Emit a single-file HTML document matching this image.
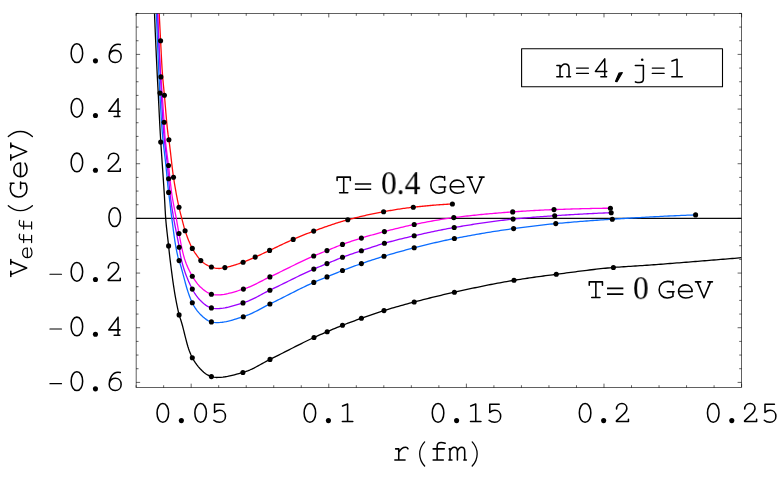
<!DOCTYPE html>
<html><head><meta charset="utf-8"><title>Veff</title>
<style>
html,body{margin:0;padding:0;background:#fff;}
body{width:784px;height:485px;position:relative;overflow:hidden;font-family:"Liberation Mono",monospace;color:#000;}
.s{position:absolute;font-family:"Liberation Serif",serif;font-size:32.2px;line-height:1;white-space:pre;will-change:transform;transform-origin:0 26.7px;transform:scale(0.977,1.03);}
</style></head><body>
<svg width="784" height="485" viewBox="0 0 784 485" style="position:absolute;left:0;top:0"><defs><clipPath id="c"><rect x="136.13" y="13.4" width="605.47" height="374.25"/></clipPath></defs><g clip-path="url(#c)" fill="none" stroke-linejoin="round"><path d="M136.13,218.4 H741.6" stroke="#0a0a0a" stroke-width="1.12"/><path d="M159.20,13.00 L159.26,14.30 L159.33,15.59 L159.39,16.89 L159.45,18.18 L159.52,19.48 L159.58,20.78 L159.65,22.07 L159.71,23.37 L159.78,24.67 L159.84,25.96 L159.91,27.26 L159.97,28.55 L160.04,29.85 L160.11,31.15 L160.17,32.44 L160.24,33.74 L160.31,35.03 L160.37,36.33 L160.44,37.63 L160.51,38.92 L160.57,40.22 L160.64,41.51 L160.71,42.81 L160.77,44.11 L160.84,45.40 L160.90,46.70 L160.97,48.00 L161.03,49.29 L161.10,50.59 L161.16,51.89 L161.23,53.18 L161.29,54.48 L161.36,55.78 L161.42,57.07 L161.49,58.37 L161.56,59.66 L161.63,60.96 L161.70,62.26 L161.77,63.55 L161.85,64.85 L161.92,66.14 L162.00,67.44 L162.08,68.73 L162.17,70.03 L162.25,71.32 L162.34,72.62 L162.44,73.91 L162.54,75.20 L162.64,76.50 L162.75,77.79 L162.86,79.08 L162.98,80.37 L163.10,81.67 L163.22,82.96 L163.34,84.25 L163.47,85.54 L163.59,86.84 L163.72,88.13 L163.84,89.42 L163.97,90.71 L164.09,92.00 L164.21,93.30 L164.33,94.59 L164.45,95.88 L164.57,97.17 L164.68,98.47 L164.80,99.76 L164.91,101.05 L165.02,102.35 L165.12,103.64 L165.23,104.94 L165.34,106.23 L165.45,107.52 L165.55,108.82 L165.66,110.11 L165.77,111.41 L165.88,112.70 L165.99,113.99 L166.10,115.29 L166.21,116.58 L166.32,117.87 L166.44,119.17 L166.56,120.46 L166.68,121.75 L166.80,123.04 L166.93,124.33 L167.06,125.63 L167.19,126.92 L167.33,128.21 L167.47,129.49 L167.62,130.78 L167.77,132.07 L167.92,133.36 L168.08,134.64 L168.28,135.93 L168.49,137.21 L168.70,138.49 L168.90,139.77 L169.08,141.06 L169.25,142.34 L169.42,143.63 L169.59,144.92 L169.75,146.20 L169.91,147.49 L170.06,148.78 L170.22,150.07 L170.37,151.36 L170.52,152.65 L170.66,153.94 L170.81,155.23 L170.96,156.52 L171.10,157.81 L171.25,159.10 L171.39,160.39 L171.54,161.68 L171.69,162.97 L171.84,164.26 L171.99,165.55 L172.14,166.84 L172.30,168.12 L172.46,169.41 L172.62,170.70 L172.78,171.99 L172.95,173.27 L173.13,174.56 L173.31,175.84 L173.49,177.13 L173.68,178.41 L173.87,179.69 L174.07,180.97 L174.28,182.26 L174.49,183.54 L174.70,184.82 L174.92,186.10 L175.14,187.38 L175.36,188.66 L175.59,189.93 L175.82,191.21 L176.05,192.49 L176.28,193.76 L176.52,195.04 L176.76,196.32 L177.00,197.59 L177.24,198.87 L177.49,200.14 L177.75,201.41 L178.01,202.69 L178.27,203.96 L178.54,205.23 L178.82,206.49 L179.10,207.76 L179.40,209.02 L179.70,210.28 L180.02,211.54 L180.34,212.80 L180.66,214.06 L180.99,215.31 L181.32,216.57 L181.65,217.82 L181.98,219.08 L182.30,220.34 L182.61,221.60 L182.93,222.86 L183.25,224.12 L183.58,225.38 L183.91,226.64 L184.26,227.89 L184.62,229.13 L184.99,230.37 L185.39,231.60 L185.80,232.83 L186.22,234.06 L186.65,235.29 L187.10,236.51 L187.56,237.74 L188.03,238.96 L188.52,240.17 L189.01,241.38 L189.53,242.58 L190.05,243.77 L190.59,244.94 L191.15,246.11 L191.72,247.27 L192.30,248.41 L192.92,249.53 L193.57,250.64 L194.26,251.74 L194.97,252.83 L195.71,253.91 L196.47,254.97 L197.24,256.03 L198.01,257.08 L198.79,258.12 L199.57,259.18 L200.39,260.19 L201.30,261.05 L202.28,261.88 L203.31,262.68 L204.39,263.46 L205.51,264.20 L206.65,264.89 L207.82,265.52 L209.01,266.09 L210.20,266.59 L211.40,267.00 L212.61,267.38 L213.87,267.74 L215.15,268.07 L216.45,268.32 L217.74,268.47 L219.02,268.49 L220.31,268.39 L221.60,268.21 L222.89,267.98 L224.17,267.74 L225.44,267.50 L226.71,267.24 L227.97,266.96 L229.23,266.65 L230.48,266.32 L231.74,265.97 L232.98,265.61 L234.23,265.22 L235.47,264.83 L236.71,264.42 L237.95,264.00 L239.18,263.58 L240.41,263.15 L241.63,262.72 L242.85,262.29 L244.07,261.85 L245.28,261.39 L246.48,260.91 L247.68,260.41 L248.88,259.90 L250.07,259.38 L251.26,258.86 L252.45,258.33 L253.64,257.80 L254.82,257.27 L256.01,256.74 L257.19,256.21 L258.37,255.67 L259.55,255.13 L260.73,254.58 L261.90,254.03 L263.07,253.48 L264.25,252.92 L265.42,252.37 L266.60,251.81 L267.77,251.26 L268.94,250.71 L270.12,250.16 L271.30,249.61 L272.47,249.05 L273.64,248.50 L274.82,247.94 L275.99,247.38 L277.16,246.82 L278.33,246.26 L279.50,245.70 L280.68,245.15 L281.85,244.59 L283.02,244.03 L284.20,243.48 L285.37,242.93 L286.55,242.39 L287.73,241.84 L288.91,241.30 L290.09,240.77 L291.28,240.24 L292.46,239.72 L293.65,239.20 L294.84,238.69 L296.04,238.18 L297.23,237.67 L298.43,237.17 L299.62,236.66 L300.82,236.16 L302.02,235.67 L303.22,235.17 L304.43,234.69 L305.63,234.20 L306.84,233.72 L308.05,233.25 L309.26,232.78 L310.47,232.31 L311.68,231.85 L312.90,231.40 L314.11,230.95 L315.33,230.50 L316.55,230.06 L317.77,229.61 L318.99,229.17 L320.21,228.73 L321.43,228.29 L322.65,227.85 L323.88,227.41 L325.10,226.98 L326.33,226.55 L327.56,226.12 L328.79,225.70 L330.02,225.28 L331.25,224.86 L332.48,224.45 L333.72,224.04 L334.95,223.64 L336.19,223.24 L337.43,222.85 L338.67,222.46 L339.91,222.08 L341.15,221.70 L342.39,221.33 L343.63,220.97 L344.88,220.61 L346.13,220.26 L347.37,219.92 L348.62,219.58 L349.87,219.25 L351.12,218.92 L352.38,218.59 L353.63,218.27 L354.89,217.95 L356.15,217.63 L357.41,217.32 L358.67,217.01 L359.93,216.70 L361.20,216.40 L362.46,216.10 L363.73,215.80 L364.99,215.51 L366.26,215.22 L367.53,214.94 L368.80,214.66 L370.07,214.38 L371.34,214.11 L372.61,213.84 L373.89,213.58 L375.16,213.32 L376.43,213.06 L377.71,212.81 L378.98,212.56 L380.25,212.32 L381.53,212.08 L382.80,211.84 L384.08,211.61 L385.35,211.38 L386.63,211.16 L387.91,210.93 L389.19,210.71 L390.47,210.49 L391.75,210.27 L393.03,210.05 L394.31,209.84 L395.59,209.63 L396.87,209.43 L398.16,209.23 L399.44,209.03 L400.73,208.83 L402.01,208.64 L403.30,208.46 L404.58,208.28 L405.87,208.10 L407.16,207.93 L408.44,207.77 L409.73,207.61 L411.02,207.46 L412.31,207.31 L413.59,207.17 L414.88,207.03 L416.17,206.89 L417.46,206.76 L418.75,206.62 L420.04,206.49 L421.33,206.36 L422.62,206.23 L423.91,206.10 L425.20,205.98 L426.49,205.85 L427.78,205.73 L429.08,205.61 L430.37,205.50 L431.66,205.38 L432.96,205.27 L434.25,205.16 L435.54,205.06 L436.84,204.96 L438.13,204.86 L439.43,204.76 L440.72,204.67 L442.02,204.58 L443.31,204.49 L444.61,204.41 L445.91,204.33 L447.21,204.26 L448.50,204.19 L449.80,204.12 L451.10,204.06 L452.40,204.00" stroke="#ff0a0a" stroke-width="1.3"/><path d="M157.80,13.00 L157.83,14.77 L157.86,16.54 L157.89,18.32 L157.93,20.09 L157.97,21.86 L158.02,23.63 L158.08,25.40 L158.13,27.17 L158.19,28.94 L158.26,30.71 L158.33,32.48 L158.40,34.25 L158.47,36.02 L158.55,37.78 L158.63,39.55 L158.72,41.32 L158.80,43.09 L158.89,44.86 L158.99,46.63 L159.08,48.39 L159.18,50.16 L159.28,51.93 L159.38,53.70 L159.48,55.46 L159.58,57.23 L159.69,59.00 L159.80,60.76 L159.90,62.53 L160.01,64.30 L160.12,66.06 L160.24,67.83 L160.35,69.59 L160.46,71.36 L160.58,73.12 L160.73,74.89 L160.88,76.65 L161.02,78.42 L161.15,80.18 L161.29,81.95 L161.42,83.71 L161.55,85.48 L161.68,87.24 L161.81,89.01 L161.94,90.78 L162.07,92.54 L162.20,94.31 L162.33,96.07 L162.45,97.84 L162.58,99.60 L162.70,101.37 L162.82,103.14 L162.95,104.90 L163.07,106.67 L163.19,108.44 L163.31,110.20 L163.43,111.97 L163.54,113.73 L163.66,115.50 L163.78,117.27 L163.89,119.03 L164.00,120.80 L164.12,122.57 L164.22,124.33 L164.32,126.10 L164.42,127.87 L164.52,129.64 L164.62,131.41 L164.74,133.17 L164.87,134.93 L165.02,136.70 L165.19,138.46 L165.36,140.22 L165.55,141.98 L165.75,143.74 L165.95,145.49 L166.17,147.25 L166.39,149.01 L166.61,150.77 L166.84,152.52 L167.07,154.28 L167.30,156.04 L167.53,157.79 L167.76,159.55 L167.99,161.31 L168.21,163.06 L168.42,164.82 L168.63,166.58 L168.83,168.34 L169.03,170.10 L169.22,171.86 L169.41,173.62 L169.60,175.38 L169.79,177.14 L169.99,178.90 L170.18,180.66 L170.38,182.43 L170.58,184.18 L170.78,185.94 L170.99,187.70 L171.21,189.46 L171.44,191.21 L171.67,192.96 L171.91,194.72 L172.17,196.46 L172.44,198.21 L172.73,199.95 L173.04,201.70 L173.37,203.44 L173.70,205.18 L174.04,206.91 L174.39,208.65 L174.74,210.39 L175.09,212.13 L175.43,213.86 L175.77,215.60 L176.10,217.34 L176.42,219.08 L176.74,220.83 L177.04,222.57 L177.34,224.31 L177.65,226.06 L177.95,227.80 L178.26,229.55 L178.58,231.29 L178.91,233.03 L179.24,234.76 L179.57,236.51 L179.90,238.25 L180.23,240.00 L180.56,241.75 L180.90,243.50 L181.24,245.25 L181.60,246.99 L181.97,248.73 L182.35,250.46 L182.75,252.18 L183.17,253.89 L183.62,255.59 L184.09,257.28 L184.59,258.95 L185.14,260.62 L185.73,262.29 L186.36,263.96 L187.03,265.62 L187.74,267.27 L188.48,268.90 L189.26,270.51 L190.06,272.10 L190.88,273.67 L191.73,275.20 L192.60,276.71 L193.51,278.21 L194.49,279.72 L195.52,281.22 L196.60,282.67 L197.72,284.08 L198.89,285.43 L200.10,286.69 L201.36,287.85 L202.68,288.98 L204.09,290.13 L205.57,291.23 L207.11,292.24 L208.70,293.11 L210.31,293.77 L211.95,294.20 L213.67,294.53 L215.46,294.78 L217.24,294.90 L218.99,294.87 L220.73,294.76 L222.48,294.57 L224.23,294.32 L225.98,294.01 L227.73,293.64 L229.47,293.23 L231.21,292.78 L232.95,292.30 L234.67,291.80 L236.39,291.28 L238.10,290.75 L239.80,290.22 L241.49,289.69 L243.17,289.17 L244.83,288.65 L246.48,288.07 L248.11,287.45 L249.74,286.78 L251.36,286.08 L252.97,285.35 L254.57,284.59 L256.17,283.81 L257.77,283.01 L259.36,282.20 L260.95,281.38 L262.54,280.56 L264.13,279.75 L265.72,278.94 L267.31,278.15 L268.91,277.37 L270.51,276.61 L272.11,275.86 L273.71,275.10 L275.31,274.33 L276.90,273.56 L278.49,272.79 L280.09,272.01 L281.68,271.23 L283.27,270.45 L284.86,269.67 L286.45,268.89 L288.03,268.11 L289.62,267.32 L291.21,266.54 L292.80,265.76 L294.40,264.98 L295.99,264.21 L297.58,263.44 L299.18,262.67 L300.77,261.90 L302.37,261.15 L303.97,260.39 L305.58,259.65 L307.18,258.91 L308.79,258.17 L310.41,257.45 L312.02,256.73 L313.64,256.02 L315.27,255.33 L316.90,254.65 L318.54,253.98 L320.18,253.32 L321.83,252.66 L323.48,252.01 L325.12,251.35 L326.77,250.69 L328.41,250.03 L330.05,249.36 L331.68,248.68 L333.32,248.01 L334.96,247.34 L336.60,246.67 L338.25,246.02 L339.90,245.38 L341.55,244.75 L343.21,244.14 L344.87,243.54 L346.54,242.96 L348.22,242.37 L349.89,241.80 L351.57,241.24 L353.25,240.68 L354.94,240.13 L356.62,239.59 L358.31,239.06 L360.00,238.53 L361.69,238.01 L363.39,237.50 L365.08,236.99 L366.78,236.48 L368.48,235.98 L370.18,235.49 L371.88,235.00 L373.58,234.52 L375.29,234.05 L377.00,233.57 L378.71,233.11 L380.42,232.65 L382.13,232.19 L383.84,231.75 L385.55,231.30 L387.27,230.86 L388.98,230.42 L390.70,229.98 L392.41,229.54 L394.13,229.11 L395.85,228.68 L397.57,228.26 L399.29,227.84 L401.01,227.43 L402.74,227.02 L404.46,226.62 L406.19,226.22 L407.92,225.84 L409.64,225.46 L411.37,225.09 L413.10,224.72 L414.84,224.37 L416.57,224.02 L418.31,223.67 L420.04,223.33 L421.78,222.98 L423.52,222.64 L425.26,222.30 L427.00,221.97 L428.74,221.64 L430.48,221.31 L432.22,220.99 L433.97,220.68 L435.71,220.37 L437.46,220.07 L439.21,219.77 L440.95,219.48 L442.70,219.20 L444.45,218.92 L446.20,218.66 L447.95,218.40 L449.70,218.15 L451.45,217.91 L453.21,217.68 L454.96,217.45 L456.71,217.24 L458.47,217.02 L460.22,216.81 L461.98,216.60 L463.74,216.39 L465.49,216.19 L467.25,215.99 L469.01,215.80 L470.77,215.60 L472.53,215.41 L474.29,215.23 L476.05,215.05 L477.82,214.87 L479.58,214.69 L481.34,214.51 L483.11,214.34 L484.87,214.17 L486.63,214.01 L488.40,213.85 L490.16,213.69 L491.93,213.53 L493.69,213.38 L495.46,213.23 L497.22,213.08 L498.99,212.93 L500.76,212.79 L502.52,212.65 L504.29,212.52 L506.05,212.38 L507.82,212.25 L509.58,212.12 L511.35,211.99 L513.11,211.87 L514.88,211.75 L516.64,211.63 L518.41,211.51 L520.18,211.39 L521.94,211.27 L523.71,211.16 L525.48,211.05 L527.24,210.94 L529.01,210.83 L530.78,210.72 L532.55,210.62 L534.32,210.52 L536.08,210.42 L537.85,210.32 L539.62,210.23 L541.39,210.14 L543.16,210.05 L544.93,209.97 L546.69,209.89 L548.46,209.81 L550.23,209.74 L552.00,209.67 L553.77,209.61 L555.54,209.55 L557.31,209.48 L559.07,209.42 L560.84,209.36 L562.61,209.30 L564.38,209.24 L566.15,209.19 L567.92,209.13 L569.69,209.07 L571.46,209.02 L573.23,208.96 L575.00,208.91 L576.77,208.85 L578.54,208.80 L580.30,208.75 L582.07,208.71 L583.84,208.66 L585.61,208.61 L587.38,208.57 L589.15,208.53 L590.92,208.49 L592.69,208.45 L594.46,208.42 L596.23,208.38 L598.01,208.35 L599.78,208.32 L601.55,208.30 L603.32,208.27 L605.09,208.25 L606.86,208.23 L608.63,208.21 L610.40,208.20" stroke="#ff00e8" stroke-width="1.3"/><path d="M157.50,13.00 L157.58,14.81 L157.67,16.62 L157.75,18.42 L157.84,20.23 L157.92,22.04 L158.01,23.85 L158.09,25.65 L158.18,27.46 L158.26,29.27 L158.35,31.08 L158.44,32.89 L158.52,34.69 L158.61,36.50 L158.69,38.31 L158.78,40.12 L158.86,41.92 L158.95,43.73 L159.04,45.54 L159.12,47.35 L159.21,49.16 L159.29,50.96 L159.38,52.77 L159.47,54.58 L159.55,56.39 L159.64,58.19 L159.73,60.00 L159.81,61.81 L159.90,63.62 L159.98,65.42 L160.07,67.23 L160.16,69.04 L160.24,70.85 L160.33,72.66 L160.42,74.46 L160.50,76.27 L160.59,78.08 L160.67,79.89 L160.75,81.69 L160.84,83.50 L160.92,85.31 L161.00,87.12 L161.09,88.93 L161.17,90.73 L161.26,92.54 L161.35,94.35 L161.44,96.16 L161.53,97.96 L161.62,99.77 L161.71,101.58 L161.81,103.39 L161.91,105.19 L162.01,107.00 L162.11,108.81 L162.22,110.61 L162.32,112.42 L162.43,114.23 L162.54,116.04 L162.65,117.84 L162.76,119.65 L162.88,121.46 L163.00,123.26 L163.12,125.07 L163.25,126.87 L163.38,128.68 L163.52,130.48 L163.66,132.28 L163.81,134.09 L163.97,135.89 L164.14,137.69 L164.32,139.49 L164.52,141.29 L164.72,143.09 L164.93,144.88 L165.15,146.68 L165.38,148.48 L165.60,150.27 L165.83,152.07 L166.05,153.87 L166.28,155.66 L166.50,157.46 L166.72,159.26 L166.92,161.05 L167.12,162.85 L167.31,164.65 L167.49,166.45 L167.66,168.26 L167.82,170.06 L167.98,171.86 L168.14,173.66 L168.30,175.47 L168.46,177.27 L168.63,179.07 L168.79,180.87 L168.96,182.68 L169.12,184.48 L169.29,186.28 L169.46,188.08 L169.64,189.89 L169.82,191.69 L170.01,193.49 L170.22,195.28 L170.43,197.08 L170.66,198.87 L170.90,200.67 L171.15,202.46 L171.41,204.25 L171.68,206.04 L171.96,207.83 L172.24,209.62 L172.53,211.40 L172.83,213.19 L173.12,214.98 L173.42,216.76 L173.72,218.55 L174.03,220.33 L174.35,222.11 L174.68,223.89 L175.02,225.67 L175.36,227.44 L175.71,229.22 L176.06,230.99 L176.42,232.77 L176.77,234.54 L177.13,236.32 L177.48,238.10 L177.83,239.87 L178.17,241.65 L178.51,243.43 L178.84,245.21 L179.16,246.99 L179.46,248.77 L179.74,250.57 L180.01,252.37 L180.29,254.16 L180.59,255.94 L180.94,257.70 L181.33,259.45 L181.75,261.21 L182.20,262.97 L182.67,264.72 L183.18,266.48 L183.72,268.23 L184.28,269.98 L184.86,271.72 L185.47,273.45 L186.11,275.17 L186.76,276.89 L187.44,278.58 L188.14,280.27 L188.86,281.93 L189.60,283.58 L190.36,285.21 L191.14,286.81 L191.93,288.39 L192.75,289.95 L193.64,291.53 L194.60,293.10 L195.61,294.65 L196.69,296.17 L197.82,297.63 L198.99,299.03 L200.21,300.34 L201.46,301.55 L202.79,302.75 L204.22,303.96 L205.72,305.12 L207.29,306.17 L208.90,307.05 L210.55,307.68 L212.23,308.06 L214.02,308.36 L215.86,308.56 L217.66,308.59 L219.45,308.52 L221.24,308.37 L223.03,308.14 L224.82,307.86 L226.61,307.51 L228.40,307.12 L230.18,306.69 L231.96,306.22 L233.73,305.72 L235.49,305.20 L237.24,304.67 L238.98,304.13 L240.71,303.60 L242.43,303.07 L244.12,302.55 L245.81,301.96 L247.48,301.33 L249.14,300.65 L250.79,299.92 L252.43,299.16 L254.06,298.37 L255.69,297.56 L257.31,296.72 L258.92,295.87 L260.54,295.02 L262.16,294.16 L263.77,293.30 L265.39,292.45 L267.01,291.62 L268.64,290.81 L270.27,290.02 L271.90,289.24 L273.53,288.46 L275.16,287.67 L276.79,286.88 L278.42,286.08 L280.04,285.28 L281.66,284.48 L283.29,283.68 L284.91,282.88 L286.54,282.08 L288.16,281.27 L289.78,280.47 L291.41,279.67 L293.03,278.87 L294.66,278.08 L296.28,277.28 L297.91,276.49 L299.54,275.71 L301.17,274.92 L302.81,274.15 L304.44,273.37 L306.08,272.61 L307.72,271.84 L309.37,271.09 L311.01,270.34 L312.66,269.60 L314.32,268.87 L315.98,268.15 L317.64,267.45 L319.31,266.75 L320.99,266.06 L322.66,265.37 L324.34,264.69 L326.01,264.01 L327.69,263.32 L329.36,262.62 L331.03,261.93 L332.70,261.23 L334.37,260.54 L336.05,259.85 L337.73,259.17 L339.41,258.50 L341.09,257.84 L342.78,257.19 L344.48,256.56 L346.17,255.94 L347.88,255.33 L349.58,254.73 L351.29,254.13 L353.00,253.54 L354.72,252.95 L356.43,252.37 L358.15,251.79 L359.86,251.22 L361.58,250.64 L363.29,250.06 L365.01,249.49 L366.73,248.91 L368.44,248.33 L370.16,247.76 L371.88,247.19 L373.60,246.62 L375.32,246.06 L377.05,245.52 L378.77,244.97 L380.50,244.44 L382.24,243.93 L383.97,243.42 L385.71,242.93 L387.45,242.45 L389.20,241.97 L390.94,241.50 L392.69,241.03 L394.44,240.58 L396.20,240.13 L397.95,239.68 L399.71,239.24 L401.47,238.81 L403.23,238.38 L404.99,237.95 L406.75,237.53 L408.51,237.12 L410.28,236.71 L412.04,236.30 L413.80,235.89 L415.56,235.49 L417.33,235.09 L419.09,234.69 L420.86,234.29 L422.63,233.89 L424.39,233.49 L426.16,233.10 L427.93,232.71 L429.70,232.33 L431.47,231.94 L433.24,231.57 L435.01,231.19 L436.79,230.82 L438.56,230.46 L440.33,230.10 L442.11,229.74 L443.88,229.39 L445.66,229.05 L447.44,228.71 L449.22,228.38 L451.00,228.06 L452.78,227.75 L454.56,227.44 L456.34,227.14 L458.12,226.83 L459.91,226.53 L461.69,226.24 L463.48,225.94 L465.26,225.65 L467.05,225.36 L468.84,225.07 L470.62,224.78 L472.41,224.50 L474.20,224.22 L475.99,223.94 L477.78,223.67 L479.57,223.40 L481.36,223.13 L483.16,222.87 L484.95,222.61 L486.74,222.35 L488.54,222.10 L490.33,221.85 L492.13,221.60 L493.92,221.36 L495.72,221.13 L497.51,220.90 L499.31,220.67 L501.10,220.45 L502.90,220.23 L504.70,220.02 L506.50,219.81 L508.29,219.61 L510.09,219.42 L511.89,219.23 L513.69,219.04 L515.49,218.86 L517.28,218.68 L519.09,218.51 L520.89,218.34 L522.69,218.17 L524.49,218.01 L526.29,217.85 L528.10,217.69 L529.90,217.54 L531.70,217.39 L533.51,217.24 L535.31,217.09 L537.12,216.95 L538.92,216.81 L540.73,216.68 L542.54,216.54 L544.34,216.41 L546.15,216.28 L547.95,216.15 L549.76,216.03 L551.56,215.91 L553.37,215.79 L555.18,215.67 L556.98,215.55 L558.79,215.44 L560.59,215.32 L562.40,215.21 L564.20,215.09 L566.01,214.98 L567.82,214.87 L569.62,214.76 L571.43,214.66 L573.24,214.55 L575.04,214.44 L576.85,214.34 L578.66,214.24 L580.46,214.14 L582.27,214.04 L584.08,213.94 L585.88,213.84 L587.69,213.75 L589.50,213.66 L591.31,213.56 L593.11,213.48 L594.92,213.39 L596.73,213.30 L598.54,213.22 L600.35,213.14 L602.16,213.06 L603.96,212.98 L605.77,212.91 L607.58,212.84 L609.39,212.77 L611.20,212.70" stroke="#9c00ff" stroke-width="1.3"/><path d="M156.40,13.00 L156.47,15.06 L156.54,17.12 L156.61,19.18 L156.69,21.23 L156.76,23.29 L156.84,25.35 L156.91,27.41 L156.99,29.47 L157.07,31.53 L157.15,33.58 L157.23,35.64 L157.31,37.70 L157.40,39.76 L157.48,41.82 L157.57,43.87 L157.65,45.93 L157.74,47.99 L157.83,50.05 L157.91,52.11 L158.00,54.16 L158.09,56.22 L158.18,58.28 L158.27,60.34 L158.36,62.39 L158.46,64.45 L158.55,66.51 L158.64,68.57 L158.74,70.62 L158.83,72.68 L158.93,74.74 L159.02,76.80 L159.12,78.85 L159.22,80.91 L159.32,82.97 L159.42,85.02 L159.53,87.08 L159.63,89.14 L159.74,91.20 L159.85,93.25 L159.96,95.31 L160.07,97.37 L160.18,99.42 L160.30,101.48 L160.42,103.54 L160.53,105.59 L160.65,107.65 L160.77,109.70 L160.89,111.76 L161.01,113.82 L161.14,115.87 L161.26,117.93 L161.39,119.99 L161.53,122.04 L161.66,124.10 L161.80,126.15 L161.95,128.21 L162.10,130.26 L162.26,132.31 L162.43,134.36 L162.61,136.41 L162.80,138.46 L163.01,140.51 L163.23,142.56 L163.46,144.61 L163.69,146.65 L163.93,148.70 L164.18,150.75 L164.43,152.79 L164.67,154.84 L164.92,156.88 L165.16,158.93 L165.40,160.97 L165.63,163.02 L165.85,165.07 L166.07,167.12 L166.27,169.17 L166.47,171.22 L166.67,173.27 L166.86,175.32 L167.05,177.37 L167.24,179.42 L167.44,181.47 L167.63,183.52 L167.84,185.57 L168.06,187.62 L168.28,189.67 L168.52,191.71 L168.78,193.75 L169.07,195.79 L169.34,197.84 L169.59,199.88 L169.83,201.93 L170.07,203.97 L170.30,206.02 L170.54,208.07 L170.77,210.11 L171.01,212.16 L171.26,214.20 L171.51,216.25 L171.78,218.29 L172.06,220.33 L172.33,222.37 L172.60,224.42 L172.87,226.47 L173.13,228.52 L173.40,230.58 L173.68,232.63 L173.96,234.68 L174.25,236.73 L174.54,238.78 L174.85,240.82 L175.18,242.86 L175.51,244.89 L175.87,246.92 L176.24,248.94 L176.63,250.96 L177.04,252.96 L177.48,254.96 L177.94,256.95 L178.48,258.92 L179.19,260.86 L179.82,262.82 L180.43,264.81 L181.02,266.80 L181.58,268.81 L182.14,270.82 L182.68,272.84 L183.22,274.87 L183.75,276.90 L184.28,278.92 L184.82,280.94 L185.36,282.96 L185.92,284.97 L186.49,286.96 L187.08,288.94 L187.69,290.90 L188.32,292.85 L188.99,294.77 L189.69,296.67 L190.42,298.55 L191.20,300.39 L192.02,302.20 L192.90,303.99 L193.89,305.79 L194.99,307.58 L196.18,309.34 L197.44,311.04 L198.77,312.66 L200.15,314.17 L201.57,315.55 L203.09,316.94 L204.73,318.32 L206.47,319.61 L208.28,320.72 L210.14,321.55 L212.03,322.03 L214.07,322.37 L216.16,322.58 L218.20,322.58 L220.23,322.46 L222.27,322.24 L224.31,321.94 L226.34,321.55 L228.38,321.10 L230.40,320.60 L232.42,320.05 L234.43,319.46 L236.43,318.86 L238.42,318.24 L240.38,317.61 L242.34,317.00 L244.27,316.39 L246.18,315.72 L248.08,314.98 L249.96,314.18 L251.83,313.33 L253.69,312.44 L255.54,311.51 L257.38,310.56 L259.22,309.58 L261.05,308.60 L262.89,307.62 L264.72,306.64 L266.56,305.68 L268.40,304.74 L270.26,303.83 L272.11,302.93 L273.95,302.02 L275.80,301.10 L277.64,300.18 L279.49,299.25 L281.32,298.32 L283.16,297.39 L285.00,296.46 L286.84,295.52 L288.68,294.59 L290.51,293.66 L292.35,292.73 L294.19,291.80 L296.03,290.87 L297.88,289.95 L299.72,289.04 L301.57,288.13 L303.42,287.23 L305.28,286.34 L307.14,285.46 L309.00,284.58 L310.87,283.72 L312.74,282.87 L314.62,282.04 L316.51,281.22 L318.41,280.42 L320.31,279.64 L322.22,278.86 L324.13,278.08 L326.04,277.30 L327.94,276.51 L329.84,275.71 L331.74,274.91 L333.64,274.11 L335.54,273.32 L337.44,272.53 L339.35,271.75 L341.26,270.99 L343.18,270.24 L345.10,269.50 L347.03,268.77 L348.95,268.05 L350.89,267.34 L352.82,266.63 L354.76,265.93 L356.70,265.24 L358.65,264.56 L360.59,263.88 L362.54,263.21 L364.48,262.54 L366.43,261.87 L368.39,261.21 L370.34,260.56 L372.29,259.91 L374.25,259.27 L376.21,258.63 L378.17,258.01 L380.14,257.39 L382.11,256.78 L384.07,256.18 L386.05,255.59 L388.02,255.00 L390.00,254.42 L391.97,253.84 L393.95,253.27 L395.94,252.71 L397.92,252.15 L399.90,251.59 L401.89,251.05 L403.88,250.51 L405.87,249.97 L407.86,249.44 L409.85,248.92 L411.84,248.40 L413.84,247.89 L415.83,247.39 L417.83,246.88 L419.83,246.38 L421.83,245.88 L423.83,245.39 L425.83,244.89 L427.83,244.41 L429.83,243.92 L431.84,243.44 L433.84,242.97 L435.85,242.50 L437.86,242.04 L439.87,241.58 L441.88,241.13 L443.89,240.68 L445.90,240.25 L447.92,239.82 L449.93,239.40 L451.95,238.99 L453.97,238.59 L455.99,238.19 L458.01,237.80 L460.03,237.41 L462.05,237.03 L464.07,236.65 L466.10,236.27 L468.12,235.90 L470.15,235.53 L472.18,235.16 L474.21,234.80 L476.24,234.44 L478.27,234.09 L480.30,233.74 L482.33,233.40 L484.36,233.05 L486.40,232.72 L488.43,232.38 L490.46,232.05 L492.50,231.73 L494.54,231.41 L496.57,231.09 L498.61,230.78 L500.65,230.47 L502.68,230.16 L504.72,229.86 L506.76,229.56 L508.80,229.27 L510.84,228.98 L512.87,228.70 L514.91,228.42 L516.95,228.14 L518.99,227.87 L521.04,227.60 L523.08,227.33 L525.12,227.07 L527.16,226.80 L529.21,226.55 L531.25,226.29 L533.30,226.04 L535.34,225.80 L537.39,225.56 L539.44,225.32 L541.48,225.09 L543.53,224.86 L545.58,224.64 L547.63,224.42 L549.68,224.21 L551.73,224.00 L553.78,223.79 L555.82,223.60 L557.87,223.40 L559.92,223.21 L561.97,223.03 L564.03,222.84 L566.08,222.66 L568.13,222.48 L570.18,222.30 L572.23,222.13 L574.29,221.96 L576.34,221.79 L578.39,221.62 L580.44,221.46 L582.50,221.29 L584.55,221.14 L586.61,220.98 L588.66,220.82 L590.72,220.67 L592.77,220.52 L594.83,220.37 L596.88,220.23 L598.94,220.08 L600.99,219.94 L603.05,219.80 L605.10,219.66 L607.16,219.53 L609.21,219.40 L611.27,219.27 L613.32,219.14 L615.38,219.01 L617.43,218.88 L619.49,218.75 L621.54,218.63 L623.60,218.50 L625.65,218.38 L627.71,218.25 L629.77,218.13 L631.82,218.01 L633.88,217.89 L635.93,217.77 L637.99,217.65 L640.05,217.53 L642.10,217.42 L644.16,217.30 L646.21,217.19 L648.27,217.07 L650.33,216.96 L652.38,216.85 L654.44,216.74 L656.50,216.64 L658.56,216.53 L660.61,216.43 L662.67,216.32 L664.73,216.22 L666.78,216.12 L668.84,216.02 L670.90,215.93 L672.96,215.83 L675.02,215.74 L677.07,215.65 L679.13,215.56 L681.19,215.47 L683.25,215.38 L685.31,215.30 L687.36,215.21 L689.42,215.13 L691.48,215.05 L693.54,214.98 L695.60,214.90" stroke="#0a6cff" stroke-width="1.3"/><path d="M154.50,13.00 L154.59,15.31 L154.68,17.63 L154.77,19.94 L154.86,22.25 L154.96,24.56 L155.05,26.88 L155.15,29.19 L155.24,31.50 L155.34,33.81 L155.44,36.12 L155.54,38.44 L155.64,40.75 L155.75,43.06 L155.85,45.37 L155.95,47.69 L156.06,50.00 L156.17,52.31 L156.27,54.62 L156.38,56.93 L156.49,59.24 L156.60,61.56 L156.71,63.87 L156.82,66.18 L156.93,68.49 L157.04,70.80 L157.15,73.11 L157.27,75.43 L157.39,77.74 L157.51,80.05 L157.63,82.36 L157.76,84.67 L157.88,86.98 L158.01,89.29 L158.13,91.60 L158.25,93.91 L158.37,96.23 L158.48,98.54 L158.60,100.85 L158.71,103.16 L158.83,105.47 L158.94,107.78 L159.05,110.10 L159.17,112.41 L159.28,114.72 L159.40,117.03 L159.52,119.34 L159.63,121.65 L159.75,123.96 L159.87,126.28 L160.00,128.59 L160.13,130.90 L160.25,133.21 L160.39,135.52 L160.53,137.83 L160.68,140.14 L160.82,142.45 L160.97,144.76 L161.12,147.07 L161.27,149.38 L161.43,151.69 L161.58,153.99 L161.74,156.30 L161.90,158.61 L162.05,160.92 L162.21,163.23 L162.37,165.54 L162.53,167.85 L162.69,170.16 L162.85,172.47 L163.01,174.77 L163.16,177.08 L163.32,179.39 L163.48,181.70 L163.63,184.01 L163.78,186.32 L163.93,188.63 L164.08,190.94 L164.23,193.25 L164.37,195.56 L164.51,197.87 L164.64,200.18 L164.77,202.49 L164.89,204.80 L165.01,207.12 L165.13,209.43 L165.27,211.74 L165.40,214.05 L165.55,216.36 L165.72,218.66 L165.90,220.97 L166.11,223.27 L166.33,225.58 L166.57,227.88 L166.82,230.18 L167.08,232.48 L167.34,234.78 L167.60,237.08 L167.87,239.38 L168.13,241.68 L168.39,243.98 L168.64,246.28 L168.88,248.58 L169.11,250.89 L169.35,253.19 L169.60,255.49 L169.87,257.79 L170.16,260.08 L170.44,262.38 L170.73,264.68 L171.02,266.98 L171.31,269.29 L171.61,271.59 L171.91,273.90 L172.21,276.20 L172.53,278.51 L172.85,280.81 L173.18,283.11 L173.51,285.41 L173.86,287.70 L174.22,290.00 L174.59,292.29 L174.97,294.58 L175.37,296.86 L175.78,299.14 L176.20,301.41 L176.64,303.67 L177.10,305.93 L177.57,308.19 L178.06,310.43 L178.57,312.67 L179.10,314.91 L179.78,317.11 L180.56,319.30 L181.27,321.51 L181.93,323.76 L182.57,326.04 L183.17,328.34 L183.76,330.66 L184.33,332.99 L184.90,335.32 L185.48,337.65 L186.06,339.96 L186.67,342.25 L187.29,344.51 L187.95,346.74 L188.65,348.92 L189.39,351.04 L190.18,353.11 L191.04,355.11 L191.96,357.04 L192.97,358.93 L194.14,360.88 L195.46,362.88 L196.90,364.88 L198.46,366.85 L200.13,368.76 L201.88,370.56 L203.71,372.21 L205.60,373.68 L207.53,374.93 L209.50,375.92 L211.48,376.62 L213.68,377.15 L216.04,377.48 L218.33,377.47 L220.63,377.33 L222.93,377.09 L225.23,376.76 L227.54,376.36 L229.84,375.89 L232.13,375.37 L234.41,374.80 L236.67,374.21 L238.91,373.60 L241.13,372.99 L243.31,372.38 L245.47,371.70 L247.61,370.91 L249.72,370.03 L251.81,369.07 L253.90,368.05 L255.96,366.97 L258.03,365.86 L260.08,364.73 L262.13,363.58 L264.19,362.45 L266.24,361.33 L268.31,360.25 L270.38,359.21 L272.46,358.19 L274.53,357.16 L276.60,356.12 L278.67,355.08 L280.73,354.03 L282.80,352.98 L284.86,351.93 L286.92,350.88 L288.99,349.83 L291.05,348.78 L293.11,347.73 L295.18,346.68 L297.24,345.64 L299.31,344.60 L301.38,343.57 L303.46,342.54 L305.54,341.52 L307.62,340.51 L309.70,339.52 L311.79,338.53 L313.89,337.55 L315.99,336.59 L318.11,335.64 L320.22,334.71 L322.35,333.79 L324.47,332.87 L326.60,331.96 L328.73,331.04 L330.85,330.13 L332.98,329.22 L335.12,328.32 L337.25,327.43 L339.39,326.55 L341.54,325.68 L343.69,324.83 L345.85,324.00 L348.01,323.18 L350.18,322.37 L352.35,321.56 L354.52,320.77 L356.70,319.98 L358.88,319.20 L361.06,318.42 L363.24,317.65 L365.42,316.87 L367.60,316.10 L369.79,315.34 L371.98,314.58 L374.17,313.82 L376.36,313.08 L378.55,312.35 L380.75,311.63 L382.96,310.93 L385.16,310.24 L387.38,309.56 L389.59,308.89 L391.81,308.23 L394.03,307.58 L396.25,306.93 L398.48,306.30 L400.71,305.67 L402.94,305.04 L405.17,304.43 L407.40,303.82 L409.64,303.21 L411.87,302.62 L414.11,302.02 L416.35,301.44 L418.59,300.85 L420.83,300.27 L423.07,299.70 L425.31,299.12 L427.55,298.56 L429.80,298.00 L432.05,297.44 L434.30,296.89 L436.55,296.34 L438.80,295.80 L441.05,295.26 L443.30,294.73 L445.56,294.20 L447.81,293.68 L450.07,293.17 L452.32,292.66 L454.58,292.16 L456.84,291.66 L459.10,291.16 L461.36,290.67 L463.62,290.18 L465.88,289.68 L468.15,289.19 L470.41,288.71 L472.68,288.23 L474.94,287.75 L477.21,287.27 L479.48,286.80 L481.74,286.33 L484.01,285.87 L486.28,285.41 L488.55,284.95 L490.82,284.50 L493.10,284.06 L495.37,283.62 L497.64,283.19 L499.92,282.77 L502.20,282.35 L504.47,281.94 L506.75,281.53 L509.03,281.14 L511.31,280.75 L513.59,280.37 L515.87,280.00 L518.15,279.63 L520.44,279.27 L522.73,278.92 L525.01,278.58 L527.30,278.24 L529.59,277.91 L531.89,277.58 L534.18,277.25 L536.47,276.94 L538.77,276.62 L541.06,276.31 L543.35,276.00 L545.65,275.70 L547.95,275.39 L550.24,275.09 L552.54,274.79 L554.83,274.49 L557.13,274.19 L559.42,273.89 L561.71,273.59 L564.01,273.29 L566.30,272.98 L568.60,272.68 L570.90,272.37 L573.19,272.07 L575.49,271.77 L577.78,271.47 L580.08,271.17 L582.38,270.88 L584.67,270.59 L586.97,270.30 L589.27,270.02 L591.57,269.75 L593.87,269.48 L596.17,269.21 L598.47,268.96 L600.77,268.71 L603.07,268.47 L605.37,268.24 L607.67,268.01 L609.97,267.80 L612.28,267.60 L614.58,267.40 L616.89,267.22 L619.19,267.05 L621.50,266.89 L623.81,266.73 L626.12,266.58 L628.43,266.43 L630.74,266.29 L633.05,266.15 L635.36,266.01 L637.67,265.87 L639.98,265.72 L642.30,265.57 L644.60,265.42 L646.91,265.26 L649.22,265.10 L651.53,264.93 L653.84,264.76 L656.15,264.59 L658.45,264.41 L660.76,264.23 L663.07,264.05 L665.38,263.87 L667.68,263.69 L669.99,263.51 L672.30,263.33 L674.61,263.15 L676.91,262.97 L679.22,262.79 L681.53,262.60 L683.83,262.42 L686.14,262.24 L688.45,262.05 L690.76,261.87 L693.06,261.69 L695.37,261.50 L697.68,261.32 L699.98,261.13 L702.29,260.94 L704.60,260.76 L706.90,260.57 L709.21,260.38 L711.52,260.20 L713.82,260.01 L716.13,259.82 L718.44,259.63 L720.74,259.44 L723.05,259.25 L725.36,259.06 L727.66,258.86 L729.97,258.67 L732.28,258.48 L734.58,258.28 L736.89,258.09 L739.19,257.90 L741.50,257.70" stroke="#000000" stroke-width="1.3"/></g><g fill="#000"><circle cx="160.6" cy="40.7" r="2.55"/><circle cx="160.9" cy="76.9" r="2.55"/><circle cx="160.0" cy="93.1" r="2.55"/><circle cx="164.4" cy="95.3" r="2.55"/><circle cx="164.1" cy="122.3" r="2.55"/><circle cx="160.7" cy="142.1" r="2.55"/><circle cx="168.9" cy="139.8" r="2.55"/><circle cx="168.5" cy="165.5" r="2.55"/><circle cx="168.6" cy="178.8" r="2.55"/><circle cx="173.5" cy="177.2" r="2.55"/><circle cx="168.6" cy="192.4" r="2.55"/><circle cx="179.0" cy="207.3" r="2.55"/><circle cx="185.1" cy="230.7" r="2.55"/><circle cx="179" cy="233.5" r="2.55"/><circle cx="168.6" cy="245.9" r="2.55"/><circle cx="179.2" cy="247.2" r="2.55"/><circle cx="192.3" cy="248.4" r="2.55"/><circle cx="179.1" cy="260.6" r="2.55"/><circle cx="200.8" cy="260.6" r="2.55"/><circle cx="211.4" cy="267.0" r="2.55"/><circle cx="224.9" cy="267.6" r="2.55"/><circle cx="192.3" cy="276.2" r="2.55"/><circle cx="192.3" cy="289.1" r="2.55"/><circle cx="211.4" cy="294.3" r="2.55"/><circle cx="192.3" cy="302.8" r="2.55"/><circle cx="211.4" cy="307.9" r="2.55"/><circle cx="179.1" cy="314.9" r="2.55"/><circle cx="211.4" cy="321.9" r="2.55"/><circle cx="192.3" cy="357.7" r="2.55"/><circle cx="211.4" cy="376.6" r="2.55"/><circle cx="243.1" cy="262.2" r="2.55"/><circle cx="255.2" cy="257.1" r="2.55"/><circle cx="269.6" cy="250.4" r="2.55"/><circle cx="293.2" cy="239.4" r="2.55"/><circle cx="313.7" cy="231.1" r="2.55"/><circle cx="347.8" cy="219.8" r="2.55"/><circle cx="383.6" cy="211.7" r="2.55"/><circle cx="413.3" cy="207.2" r="2.55"/><circle cx="452.4" cy="204.0" r="2.55"/><circle cx="243.4" cy="289.1" r="2.55"/><circle cx="269.9" cy="276.9" r="2.55"/><circle cx="313.7" cy="256" r="2.55"/><circle cx="327" cy="250.6" r="2.55"/><circle cx="342.5" cy="244.4" r="2.55"/><circle cx="361.4" cy="238.1" r="2.55"/><circle cx="384.4" cy="231.6" r="2.55"/><circle cx="414.2" cy="224.5" r="2.55"/><circle cx="453.8" cy="217.6" r="2.55"/><circle cx="512.7" cy="211.9" r="2.55"/><circle cx="554" cy="209.6" r="2.55"/><circle cx="610.4" cy="208.2" r="2.55"/><circle cx="243.0" cy="302.9" r="2.55"/><circle cx="269.9" cy="290.2" r="2.55"/><circle cx="313.8" cy="269.1" r="2.55"/><circle cx="327" cy="263.6" r="2.55"/><circle cx="342.5" cy="257.3" r="2.55"/><circle cx="361.4" cy="250.7" r="2.55"/><circle cx="384.4" cy="243.3" r="2.55"/><circle cx="414.2" cy="235.8" r="2.55"/><circle cx="454.2" cy="227.5" r="2.55"/><circle cx="513.1" cy="219.1" r="2.55"/><circle cx="554.7" cy="215.7" r="2.55"/><circle cx="611.2" cy="212.7" r="2.55"/><circle cx="243.3" cy="316.7" r="2.55"/><circle cx="269.9" cy="304.0" r="2.55"/><circle cx="313.8" cy="282.4" r="2.55"/><circle cx="327" cy="276.9" r="2.55"/><circle cx="342.5" cy="270.5" r="2.55"/><circle cx="361.4" cy="263.6" r="2.55"/><circle cx="384" cy="256.2" r="2.55"/><circle cx="414.2" cy="247.8" r="2.55"/><circle cx="454.4" cy="238.5" r="2.55"/><circle cx="513.6" cy="228.6" r="2.55"/><circle cx="555.8" cy="223.6" r="2.55"/><circle cx="612.3" cy="219.2" r="2.55"/><circle cx="695.6" cy="214.9" r="2.55"/><circle cx="242.9" cy="372.5" r="2.55"/><circle cx="270" cy="359.4" r="2.55"/><circle cx="314" cy="337.5" r="2.55"/><circle cx="327.2" cy="331.7" r="2.55"/><circle cx="342.5" cy="325.3" r="2.55"/><circle cx="361.4" cy="318.3" r="2.55"/><circle cx="384" cy="310.6" r="2.55"/><circle cx="414.2" cy="302.0" r="2.55"/><circle cx="454.4" cy="292.2" r="2.55"/><circle cx="514" cy="280.3" r="2.55"/><circle cx="556.3" cy="274.3" r="2.55"/><circle cx="613.4" cy="267.5" r="2.55"/></g><rect x="136.13" y="13.4" width="605.47" height="374.25" fill="none" stroke="#000" stroke-width="0.62"/><path d="M136.13,387.65 v-2.4 M136.13,13.4 v2.4 M163.65,387.65 v-2.4 M163.65,13.4 v2.4 M191.17,387.65 v-4.0 M191.17,13.4 v4.0 M218.69,387.65 v-2.4 M218.69,13.4 v2.4 M246.22,387.65 v-2.4 M246.22,13.4 v2.4 M273.74,387.65 v-2.4 M273.74,13.4 v2.4 M301.26,387.65 v-2.4 M301.26,13.4 v2.4 M328.78,387.65 v-4.0 M328.78,13.4 v4.0 M356.30,387.65 v-2.4 M356.30,13.4 v2.4 M383.82,387.65 v-2.4 M383.82,13.4 v2.4 M411.34,387.65 v-2.4 M411.34,13.4 v2.4 M438.87,387.65 v-2.4 M438.87,13.4 v2.4 M466.39,387.65 v-4.0 M466.39,13.4 v4.0 M493.91,387.65 v-2.4 M493.91,13.4 v2.4 M521.43,387.65 v-2.4 M521.43,13.4 v2.4 M548.95,387.65 v-2.4 M548.95,13.4 v2.4 M576.47,387.65 v-2.4 M576.47,13.4 v2.4 M603.99,387.65 v-4.0 M603.99,13.4 v4.0 M631.51,387.65 v-2.4 M631.51,13.4 v2.4 M659.04,387.65 v-2.4 M659.04,13.4 v2.4 M686.56,387.65 v-2.4 M686.56,13.4 v2.4 M714.08,387.65 v-2.4 M714.08,13.4 v2.4 M741.60,387.65 v-4.0 M741.60,13.4 v4.0 M136.13,382.40 h4.0 M741.6,382.40 h-4.0 M136.13,368.73 h2.4 M741.6,368.73 h-2.4 M136.13,355.06 h2.4 M741.6,355.06 h-2.4 M136.13,341.40 h2.4 M741.6,341.40 h-2.4 M136.13,327.73 h4.0 M741.6,327.73 h-4.0 M136.13,314.07 h2.4 M741.6,314.07 h-2.4 M136.13,300.40 h2.4 M741.6,300.40 h-2.4 M136.13,286.73 h2.4 M741.6,286.73 h-2.4 M136.13,273.07 h4.0 M741.6,273.07 h-4.0 M136.13,259.40 h2.4 M741.6,259.40 h-2.4 M136.13,245.73 h2.4 M741.6,245.73 h-2.4 M136.13,232.07 h2.4 M741.6,232.07 h-2.4 M136.13,218.40 h4.0 M741.6,218.40 h-4.0 M136.13,204.73 h2.4 M741.6,204.73 h-2.4 M136.13,191.07 h2.4 M741.6,191.07 h-2.4 M136.13,177.40 h2.4 M741.6,177.40 h-2.4 M136.13,163.73 h4.0 M741.6,163.73 h-4.0 M136.13,150.07 h2.4 M741.6,150.07 h-2.4 M136.13,136.40 h2.4 M741.6,136.40 h-2.4 M136.13,122.73 h2.4 M741.6,122.73 h-2.4 M136.13,109.07 h4.0 M741.6,109.07 h-4.0 M136.13,95.40 h2.4 M741.6,95.40 h-2.4 M136.13,81.74 h2.4 M741.6,81.74 h-2.4 M136.13,68.07 h2.4 M741.6,68.07 h-2.4 M136.13,54.40 h4.0 M741.6,54.40 h-4.0 M136.13,40.74 h2.4 M741.6,40.74 h-2.4 M136.13,27.07 h2.4 M741.6,27.07 h-2.4 M136.13,13.40 h2.4 M741.6,13.40 h-2.4" stroke="#000" stroke-width="0.62" fill="none"/><rect x="521.6" y="48.7" width="200.9" height="38.0" fill="#fff" stroke="#000" stroke-width="1.1" stroke-linejoin="round"/></svg>
<svg width="784" height="485" viewBox="0 0 784 485" style="position:absolute;left:0;top:0"><g fill="none" stroke="#000" stroke-width="1.4" stroke-linecap="round" stroke-linejoin="round"><path transform="translate(67.45,62.55)" d="M9.45,-18.75 C12.90,-18.75 15.2,-14.64 15.2,-9.4 C15.2,-4.16 12.90,-0.05000000000000071 9.45,-0.05000000000000071 C6.00,-0.05000000000000071 3.6999999999999993,-4.16 3.6999999999999993,-9.4 C3.6999999999999993,-14.64 6.00,-18.75 9.45,-18.75Z" stroke-width="1.55"/><g transform="translate(86.35,62.55)" fill="#000" stroke="none"><circle cx="9.1" cy="-1.7" r="2.55"/></g><path transform="translate(105.25,62.55)" d="M15.0,-18.0 C11.6,-18.9 8.2,-17.4 6.1,-14.2 C4.6,-11.8 3.95,-9.0 3.95,-6.3 C3.95,-2.6 6.4,-0.1 9.9,-0.1 C13.4,-0.1 15.9,-2.6 15.9,-6.1 C15.9,-9.6 13.5,-12.2 10.1,-12.2 C7.4,-12.2 5.0,-10.4 4.1,-7.6" stroke-width="1.55"/><path transform="translate(67.45,117.22)" d="M9.45,-18.75 C12.90,-18.75 15.2,-14.64 15.2,-9.4 C15.2,-4.16 12.90,-0.05000000000000071 9.45,-0.05000000000000071 C6.00,-0.05000000000000071 3.6999999999999993,-4.16 3.6999999999999993,-9.4 C3.6999999999999993,-14.64 6.00,-18.75 9.45,-18.75Z" stroke-width="1.55"/><g transform="translate(86.35,117.22)" fill="#000" stroke="none"><circle cx="9.1" cy="-1.7" r="2.55"/></g><path transform="translate(105.25,117.22)" d="M12.8,-18.5 L3.5,-6.0 H14.8 M12.8,-18.5 V-0.7 M8.9,-0.7 H14.6" stroke-width="1.55"/><path transform="translate(67.45,171.88)" d="M9.45,-18.75 C12.90,-18.75 15.2,-14.64 15.2,-9.4 C15.2,-4.16 12.90,-0.05000000000000071 9.45,-0.05000000000000071 C6.00,-0.05000000000000071 3.6999999999999993,-4.16 3.6999999999999993,-9.4 C3.6999999999999993,-14.64 6.00,-18.75 9.45,-18.75Z" stroke-width="1.55"/><g transform="translate(86.35,171.88)" fill="#000" stroke="none"><circle cx="9.1" cy="-1.7" r="2.55"/></g><path transform="translate(105.25,171.88)" d="M3.1,-13.2 C3.1,-16.4 5.4,-18.7 8.5,-18.7 C11.4,-18.7 13.4,-16.6 13.4,-13.9 C13.4,-11.6 12.0,-10.0 10.0,-8.1 L3.0,-1.4 V-0.7 H15.0 V-3.0" stroke-width="1.55"/><path transform="translate(105.25,226.55)" d="M9.45,-18.75 C12.90,-18.75 15.2,-14.64 15.2,-9.4 C15.2,-4.16 12.90,-0.05000000000000071 9.45,-0.05000000000000071 C6.00,-0.05000000000000071 3.6999999999999993,-4.16 3.6999999999999993,-9.4 C3.6999999999999993,-14.64 6.00,-18.75 9.45,-18.75Z" stroke-width="1.55"/><path transform="translate(67.45,281.22)" d="M9.45,-18.75 C12.90,-18.75 15.2,-14.64 15.2,-9.4 C15.2,-4.16 12.90,-0.05000000000000071 9.45,-0.05000000000000071 C6.00,-0.05000000000000071 3.6999999999999993,-4.16 3.6999999999999993,-9.4 C3.6999999999999993,-14.64 6.00,-18.75 9.45,-18.75Z" stroke-width="1.55"/><g transform="translate(86.35,281.22)" fill="#000" stroke="none"><circle cx="9.1" cy="-1.7" r="2.55"/></g><path transform="translate(105.25,281.22)" d="M3.1,-13.2 C3.1,-16.4 5.4,-18.7 8.5,-18.7 C11.4,-18.7 13.4,-16.6 13.4,-13.9 C13.4,-11.6 12.0,-10.0 10.0,-8.1 L3.0,-1.4 V-0.7 H15.0 V-3.0" stroke-width="1.55"/><path d="M49.9,274.32 H61.5" stroke-width="1.1"/><path transform="translate(67.45,335.88)" d="M9.45,-18.75 C12.90,-18.75 15.2,-14.64 15.2,-9.4 C15.2,-4.16 12.90,-0.05000000000000071 9.45,-0.05000000000000071 C6.00,-0.05000000000000071 3.6999999999999993,-4.16 3.6999999999999993,-9.4 C3.6999999999999993,-14.64 6.00,-18.75 9.45,-18.75Z" stroke-width="1.55"/><g transform="translate(86.35,335.88)" fill="#000" stroke="none"><circle cx="9.1" cy="-1.7" r="2.55"/></g><path transform="translate(105.25,335.88)" d="M12.8,-18.5 L3.5,-6.0 H14.8 M12.8,-18.5 V-0.7 M8.9,-0.7 H14.6" stroke-width="1.55"/><path d="M49.9,328.98 H61.5" stroke-width="1.1"/><path transform="translate(67.45,390.55)" d="M9.45,-18.75 C12.90,-18.75 15.2,-14.64 15.2,-9.4 C15.2,-4.16 12.90,-0.05000000000000071 9.45,-0.05000000000000071 C6.00,-0.05000000000000071 3.6999999999999993,-4.16 3.6999999999999993,-9.4 C3.6999999999999993,-14.64 6.00,-18.75 9.45,-18.75Z" stroke-width="1.55"/><g transform="translate(86.35,390.55)" fill="#000" stroke="none"><circle cx="9.1" cy="-1.7" r="2.55"/></g><path transform="translate(105.25,390.55)" d="M15.0,-18.0 C11.6,-18.9 8.2,-17.4 6.1,-14.2 C4.6,-11.8 3.95,-9.0 3.95,-6.3 C3.95,-2.6 6.4,-0.1 9.9,-0.1 C13.4,-0.1 15.9,-2.6 15.9,-6.1 C15.9,-9.6 13.5,-12.2 10.1,-12.2 C7.4,-12.2 5.0,-10.4 4.1,-7.6" stroke-width="1.55"/><path d="M49.9,383.65 H61.5" stroke-width="1.1"/><path transform="translate(153.37,422.30)" d="M9.45,-18.75 C12.90,-18.75 15.2,-14.64 15.2,-9.4 C15.2,-4.16 12.90,-0.05000000000000071 9.45,-0.05000000000000071 C6.00,-0.05000000000000071 3.6999999999999993,-4.16 3.6999999999999993,-9.4 C3.6999999999999993,-14.64 6.00,-18.75 9.45,-18.75Z" stroke-width="1.55"/><g transform="translate(172.27,422.30)" fill="#000" stroke="none"><circle cx="9.1" cy="-1.7" r="2.55"/></g><path transform="translate(191.17,422.30)" d="M9.45,-18.75 C12.90,-18.75 15.2,-14.64 15.2,-9.4 C15.2,-4.16 12.90,-0.05000000000000071 9.45,-0.05000000000000071 C6.00,-0.05000000000000071 3.6999999999999993,-4.16 3.6999999999999993,-9.4 C3.6999999999999993,-14.64 6.00,-18.75 9.45,-18.75Z" stroke-width="1.55"/><path transform="translate(210.07,422.30)" d="M13.9,-18.1 H4.5 V-9.8 C6.0,-11.3 7.8,-12.0 9.7,-12.0 C13.0,-12.0 15.4,-9.5 15.4,-6.1 C15.4,-2.6 12.9,-0.1 9.4,-0.1 C7.0,-0.1 5.1,-0.9 3.8,-2.1" stroke-width="1.55"/><path transform="translate(300.43,422.30)" d="M9.45,-18.75 C12.90,-18.75 15.2,-14.64 15.2,-9.4 C15.2,-4.16 12.90,-0.05000000000000071 9.45,-0.05000000000000071 C6.00,-0.05000000000000071 3.6999999999999993,-4.16 3.6999999999999993,-9.4 C3.6999999999999993,-14.64 6.00,-18.75 9.45,-18.75Z" stroke-width="1.55"/><g transform="translate(319.33,422.30)" fill="#000" stroke="none"><circle cx="9.1" cy="-1.7" r="2.55"/></g><path transform="translate(338.23,422.30)" d="M4.3,-16.3 L9.35,-18.2 V-0.7 M4.15,-0.7 H14.55" stroke-width="1.55"/><path transform="translate(428.59,422.30)" d="M9.45,-18.75 C12.90,-18.75 15.2,-14.64 15.2,-9.4 C15.2,-4.16 12.90,-0.05000000000000071 9.45,-0.05000000000000071 C6.00,-0.05000000000000071 3.6999999999999993,-4.16 3.6999999999999993,-9.4 C3.6999999999999993,-14.64 6.00,-18.75 9.45,-18.75Z" stroke-width="1.55"/><g transform="translate(447.49,422.30)" fill="#000" stroke="none"><circle cx="9.1" cy="-1.7" r="2.55"/></g><path transform="translate(466.39,422.30)" d="M4.3,-16.3 L9.35,-18.2 V-0.7 M4.15,-0.7 H14.55" stroke-width="1.55"/><path transform="translate(485.29,422.30)" d="M13.9,-18.1 H4.5 V-9.8 C6.0,-11.3 7.8,-12.0 9.7,-12.0 C13.0,-12.0 15.4,-9.5 15.4,-6.1 C15.4,-2.6 12.9,-0.1 9.4,-0.1 C7.0,-0.1 5.1,-0.9 3.8,-2.1" stroke-width="1.55"/><path transform="translate(575.64,422.30)" d="M9.45,-18.75 C12.90,-18.75 15.2,-14.64 15.2,-9.4 C15.2,-4.16 12.90,-0.05000000000000071 9.45,-0.05000000000000071 C6.00,-0.05000000000000071 3.6999999999999993,-4.16 3.6999999999999993,-9.4 C3.6999999999999993,-14.64 6.00,-18.75 9.45,-18.75Z" stroke-width="1.55"/><g transform="translate(594.54,422.30)" fill="#000" stroke="none"><circle cx="9.1" cy="-1.7" r="2.55"/></g><path transform="translate(613.44,422.30)" d="M3.1,-13.2 C3.1,-16.4 5.4,-18.7 8.5,-18.7 C11.4,-18.7 13.4,-16.6 13.4,-13.9 C13.4,-11.6 12.0,-10.0 10.0,-8.1 L3.0,-1.4 V-0.7 H15.0 V-3.0" stroke-width="1.55"/><path transform="translate(703.80,422.30)" d="M9.45,-18.75 C12.90,-18.75 15.2,-14.64 15.2,-9.4 C15.2,-4.16 12.90,-0.05000000000000071 9.45,-0.05000000000000071 C6.00,-0.05000000000000071 3.6999999999999993,-4.16 3.6999999999999993,-9.4 C3.6999999999999993,-14.64 6.00,-18.75 9.45,-18.75Z" stroke-width="1.55"/><g transform="translate(722.70,422.30)" fill="#000" stroke="none"><circle cx="9.1" cy="-1.7" r="2.55"/></g><path transform="translate(741.60,422.30)" d="M3.1,-13.2 C3.1,-16.4 5.4,-18.7 8.5,-18.7 C11.4,-18.7 13.4,-16.6 13.4,-13.9 C13.4,-11.6 12.0,-10.0 10.0,-8.1 L3.0,-1.4 V-0.7 H15.0 V-3.0" stroke-width="1.55"/><path transform="translate(760.50,422.30)" d="M13.9,-18.1 H4.5 V-9.8 C6.0,-11.3 7.8,-12.0 9.7,-12.0 C13.0,-12.0 15.4,-9.5 15.4,-6.1 C15.4,-2.6 12.9,-0.1 9.4,-0.1 C7.0,-0.1 5.1,-0.9 3.8,-2.1" stroke-width="1.55"/><path transform="translate(391.10,460.80)" d="M4.55,-11.9 H7.65 V-0.7 M3.75,-0.7 H13.95 M7.65,-8.3 C9.2,-11.5 12.0,-13.5 14.6,-13.5 C15.6,-13.5 16.4,-12.9 16.9,-11.9" stroke-width="1.55"/><path transform="translate(410.25,460.80)" d="M14.4,-18.9 C11.2,-15.4 9.45,-11.4 9.45,-6.9 C9.45,-2.4 11.2,1.7 14.4,5.2" stroke-width="1.3"/><path transform="translate(429.40,460.80)" d="M7.75,-0.7 V-14.3 C7.75,-16.9 9.4,-18.2 11.8,-18.2 C13.3,-18.2 14.6,-17.9 15.75,-17.5 M3.75,-11.9 H14.85 M3.75,-0.7 H13.9" stroke-width="1.55"/><path transform="translate(448.55,460.80)" d="M0.65,-11.9 H1.45 V-0.7 M0.4,-0.7 H3.4 M1.45,-9.5 C2.4,-12.0 4.0,-13.5 5.6,-13.5 C7.6,-13.5 8.85,-12.0 8.85,-9.6 V-0.7 M8.85,-9.5 C9.8,-12.0 11.4,-13.5 13.0,-13.5 C15.0,-13.5 16.15,-12.0 16.15,-9.6 V-0.7 M15.3,-0.7 H17.8" stroke-width="1.55"/><path transform="translate(467.70,460.80)" d="M4.5,-18.9 C7.7,-15.4 9.45,-11.4 9.45,-6.9 C9.45,-2.4 7.7,1.7 4.5,5.2" stroke-width="1.3"/><path transform="translate(554.06,77.40)" d="M2.85,-11.9 H5.95 V-0.7 M2.75,-0.7 H8.65 M5.95,-9.0 C7.4,-11.8 9.2,-13.5 11.0,-13.5 C13.6,-13.5 14.95,-11.8 14.95,-9.2 V-0.7 M12.75,-0.7 H16.45" stroke-width="1.55"/><path transform="translate(573.00,77.40)" d="M3.5,-9.3 H15.4 M3.5,-4.0 H15.4" stroke-width="1.25"/><path transform="translate(591.94,77.40)" d="M12.8,-18.5 L3.5,-6.0 H14.8 M12.8,-18.5 V-0.7 M8.9,-0.7 H14.6" stroke-width="1.55"/><g transform="translate(610.88,77.40)" fill="#000" stroke="none"><path d="M8.1,-4.2 L11.4,-4.7 L6.1,4.2 L4.7,3.9 Z" stroke="#000" stroke-width="1.2" stroke-linejoin="round"/></g><path transform="translate(629.82,77.40)" d="M5.55,-11.9 H13.55 V1.6 C13.55,4.0 12.0,5.1 9.7,5.1 C8.2,5.1 6.8,4.9 5.6,4.5" stroke-width="1.55"/><g transform="translate(629.82,77.40)" fill="#000" stroke="none"><circle cx="12.4" cy="-17.6" r="1.3"/></g><path transform="translate(648.76,77.40)" d="M3.5,-9.3 H15.4 M3.5,-4.0 H15.4" stroke-width="1.25"/><path transform="translate(667.70,77.40)" d="M4.3,-16.3 L9.35,-18.2 V-0.7 M4.15,-0.7 H14.55" stroke-width="1.55"/><path transform="translate(334.25,193.5)" d="M2.85,-13.0 V-16.4 H16.05 V-13.0 M9.45,-16.4 V-0.7 M5.35,-0.7 H13.55" stroke-width="1.55"/><path d="M354.90,184.0 h16.3 M354.90,189.3 h16.3" stroke-width="1.6" stroke-linecap="butt"/><path transform="translate(428.90,193.5)" d="M15.7,-13.2 V-17.0 M15.7,-15.6 C14.2,-16.5 12.4,-16.9 10.4,-16.9 C5.4,-16.9 1.9,-13.4 1.9,-8.6 C1.9,-3.8 5.3,-0.3 10.0,-0.3 C12.2,-0.3 14.1,-0.8 15.7,-1.8 V-6.6 M10.1,-6.6 H16.8" stroke-width="1.55"/><path transform="translate(447.60,193.5)" d="M2.6,-6.7 H16.2 C16.2,-10.7 13.3,-13.4 9.4,-13.4 C5.5,-13.4 2.6,-10.6 2.6,-6.8 C2.6,-3.0 5.5,-0.2 9.7,-0.2 C12.3,-0.2 14.5,-1.0 16.1,-2.2" stroke-width="1.55"/><path transform="translate(466.15,193.5)" d="M0.95,-16.4 H6.25 M13.25,-16.4 H17.95 M2.85,-16.4 L9.45,-0.5 L16.05,-16.4" stroke-width="1.55"/><path transform="translate(586.40,298.25)" d="M2.85,-13.0 V-16.4 H16.05 V-13.0 M9.45,-16.4 V-0.7 M5.35,-0.7 H13.55" stroke-width="1.55"/><path d="M607.05,288.4 h16.3 M607.05,294.1 h16.3" stroke-width="1.6" stroke-linecap="butt"/><path transform="translate(657.25,298.25)" d="M15.7,-13.2 V-17.0 M15.7,-15.6 C14.2,-16.5 12.4,-16.9 10.4,-16.9 C5.4,-16.9 1.9,-13.4 1.9,-8.6 C1.9,-3.8 5.3,-0.3 10.0,-0.3 C12.2,-0.3 14.1,-0.8 15.7,-1.8 V-6.6 M10.1,-6.6 H16.8" stroke-width="1.55"/><path transform="translate(675.95,298.25)" d="M2.6,-6.7 H16.2 C16.2,-10.7 13.3,-13.4 9.4,-13.4 C5.5,-13.4 2.6,-10.6 2.6,-6.8 C2.6,-3.0 5.5,-0.2 9.7,-0.2 C12.3,-0.2 14.5,-1.0 16.1,-2.2" stroke-width="1.55"/><path transform="translate(694.50,298.25)" d="M0.95,-16.4 H6.25 M13.25,-16.4 H17.95 M2.85,-16.4 L9.45,-0.5 L16.05,-16.4" stroke-width="1.55"/><path transform="translate(27.2,268.05) rotate(-90) translate(-9.45,0)" d="M0.95,-16.4 H6.25 M13.25,-16.4 H17.95 M2.85,-16.4 L9.45,-0.5 L16.05,-16.4" stroke-width="1.55"/><path transform="translate(32.1,252.8) rotate(-90) scale(0.71) translate(-9.4,0)" d="M2.6,-6.7 H16.2 C16.2,-10.7 13.3,-13.4 9.4,-13.4 C5.5,-13.4 2.6,-10.6 2.6,-6.8 C2.6,-3.0 5.5,-0.2 9.7,-0.2 C12.3,-0.2 14.5,-1.0 16.1,-2.2" stroke-width="1.65"/><path transform="translate(32.1,239.7) rotate(-90) scale(0.71) translate(-7.75,0)" d="M7.75,-0.7 V-14.3 C7.75,-16.9 9.4,-18.2 11.8,-18.2 C13.3,-18.2 14.6,-17.9 15.75,-17.5 M3.75,-11.9 H14.85 M3.75,-0.7 H13.9" stroke-width="1.65"/><path transform="translate(32.1,226.1) rotate(-90) scale(0.71) translate(-7.75,0)" d="M7.75,-0.7 V-14.3 C7.75,-16.9 9.4,-18.2 11.8,-18.2 C13.3,-18.2 14.6,-17.9 15.75,-17.5 M3.75,-11.9 H14.85 M3.75,-0.7 H13.9" stroke-width="1.65"/><path transform="translate(27.2,210.7) rotate(-90) translate(-9.45,0)" d="M14.4,-18.9 C11.2,-15.4 9.45,-11.4 9.45,-6.9 C9.45,-2.4 11.2,1.7 14.4,5.2" stroke-width="1.3"/><path transform="translate(27.2,189.55) rotate(-90) translate(-9.35,0)" d="M15.7,-13.2 V-17.0 M15.7,-15.6 C14.2,-16.5 12.4,-16.9 10.4,-16.9 C5.4,-16.9 1.9,-13.4 1.9,-8.6 C1.9,-3.8 5.3,-0.3 10.0,-0.3 C12.2,-0.3 14.1,-0.8 15.7,-1.8 V-6.6 M10.1,-6.6 H16.8" stroke-width="1.55"/><path transform="translate(27.2,169.9) rotate(-90) translate(-9.4,0)" d="M2.6,-6.7 H16.2 C16.2,-10.7 13.3,-13.4 9.4,-13.4 C5.5,-13.4 2.6,-10.6 2.6,-6.8 C2.6,-3.0 5.5,-0.2 9.7,-0.2 C12.3,-0.2 14.5,-1.0 16.1,-2.2" stroke-width="1.55"/><path transform="translate(27.2,151.6) rotate(-90) translate(-9.45,0)" d="M0.95,-16.4 H6.25 M13.25,-16.4 H17.95 M2.85,-16.4 L9.45,-0.5 L16.05,-16.4" stroke-width="1.55"/><path transform="translate(27.2,131.5) rotate(-90) translate(-9.45,0)" d="M4.5,-18.9 C7.7,-15.4 9.45,-11.4 9.45,-6.9 C9.45,-2.4 7.7,1.7 4.5,5.2" stroke-width="1.3"/></g></svg>
<div class="s" id="n04" style="left:380.7px;top:167.1px;">0.4</div>
<div class="s" id="n0" style="left:633.0px;top:271.9px;">0</div>
</body></html>
